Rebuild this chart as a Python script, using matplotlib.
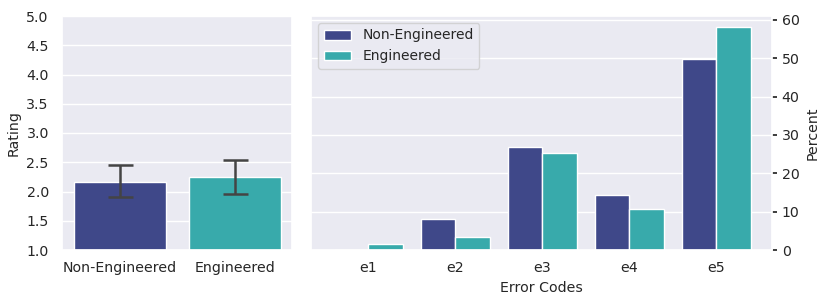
import numpy as np
import matplotlib.pyplot as plt
import seaborn as sns

groups = ['Non-Engineered', 'Engineered']
ratings = [2.16, 2.24]
rating_lo = [1.91, 1.95]
rating_hi = [2.46, 2.54]

codes = ['e1', 'e2', 'e3', 'e4', 'e5']
pct_non = [0.0, 8.0, 26.9, 14.3, 49.8]
pct_eng = [1.5, 3.4, 25.3, 10.7, 58.1]

colors = ['#3f4889', '#38aaab']

sns.set_theme(style='darkgrid')
plt.rcParams['font.family'] = ['DejaVu Sans']

fig = plt.figure(figsize=(8.3, 3.04), dpi=100)
ax1 = fig.add_axes([62/830, 54/304, 230/830, 234/304])
ax2 = fig.add_axes([311/830, 54/304, 461/830, 234/304])

# left: ratings with error bars
x = np.arange(len(groups))
ax1.bar(x, np.array(ratings) - 1.0, bottom=1.0, width=0.8, color=colors,
        edgecolor='white', linewidth=1)
yerr = [np.array(ratings) - np.array(rating_lo), np.array(rating_hi) - np.array(ratings)]
ax1.errorbar(x, ratings, yerr=yerr, fmt='none', ecolor='#444444',
             elinewidth=1.8, capsize=9, capthick=1.8)
ax1.set_ylim(1.0, 5.0)
ax1.set_xlim(-0.5, 1.5)
ax1.set_xticks(x)
ax1.set_xticklabels(groups, fontsize=10.2)
ax1.set_yticks(np.arange(1.0, 5.01, 0.5))
ax1.set_yticklabels(['%.1f' % v for v in np.arange(1.0, 5.01, 0.5)], fontsize=10.2)
ax1.tick_params(axis='x', pad=2)
ax1.set_ylabel('Rating', fontsize=10.2)
ax1.grid(axis='x', visible=False)

# right: error code percentages
xc = np.arange(len(codes))
w = 0.4
ax2.bar(xc - w/2, pct_non, width=w, color=colors[0], edgecolor='white',
        linewidth=1, label='Non-Engineered')
ax2.bar(xc + w/2, pct_eng, width=w, color=colors[1], edgecolor='white',
        linewidth=1, label='Engineered')
ax2.set_xlim(-0.66, 4.64)
ax2.set_ylim(0, 61)
ax2.set_xticks(xc)
ax2.set_xticklabels(codes, fontsize=10.2)
ax2.set_yticks(np.arange(0, 61, 10))
ax2.yaxis.tick_right()
ax2.yaxis.set_label_position('right')
ax2.tick_params(axis='y', right=True, length=3.5, labelsize=10.2)
ax2.tick_params(axis='x', pad=2)
ax2.set_ylabel('Percent', fontsize=10.2)
ax2.set_xlabel('Error Codes', fontsize=10.2)
ax2.grid(axis='x', visible=False)
ax2.legend(loc='upper left', fontsize=10)

fig.savefig('out.png', dpi=100)
